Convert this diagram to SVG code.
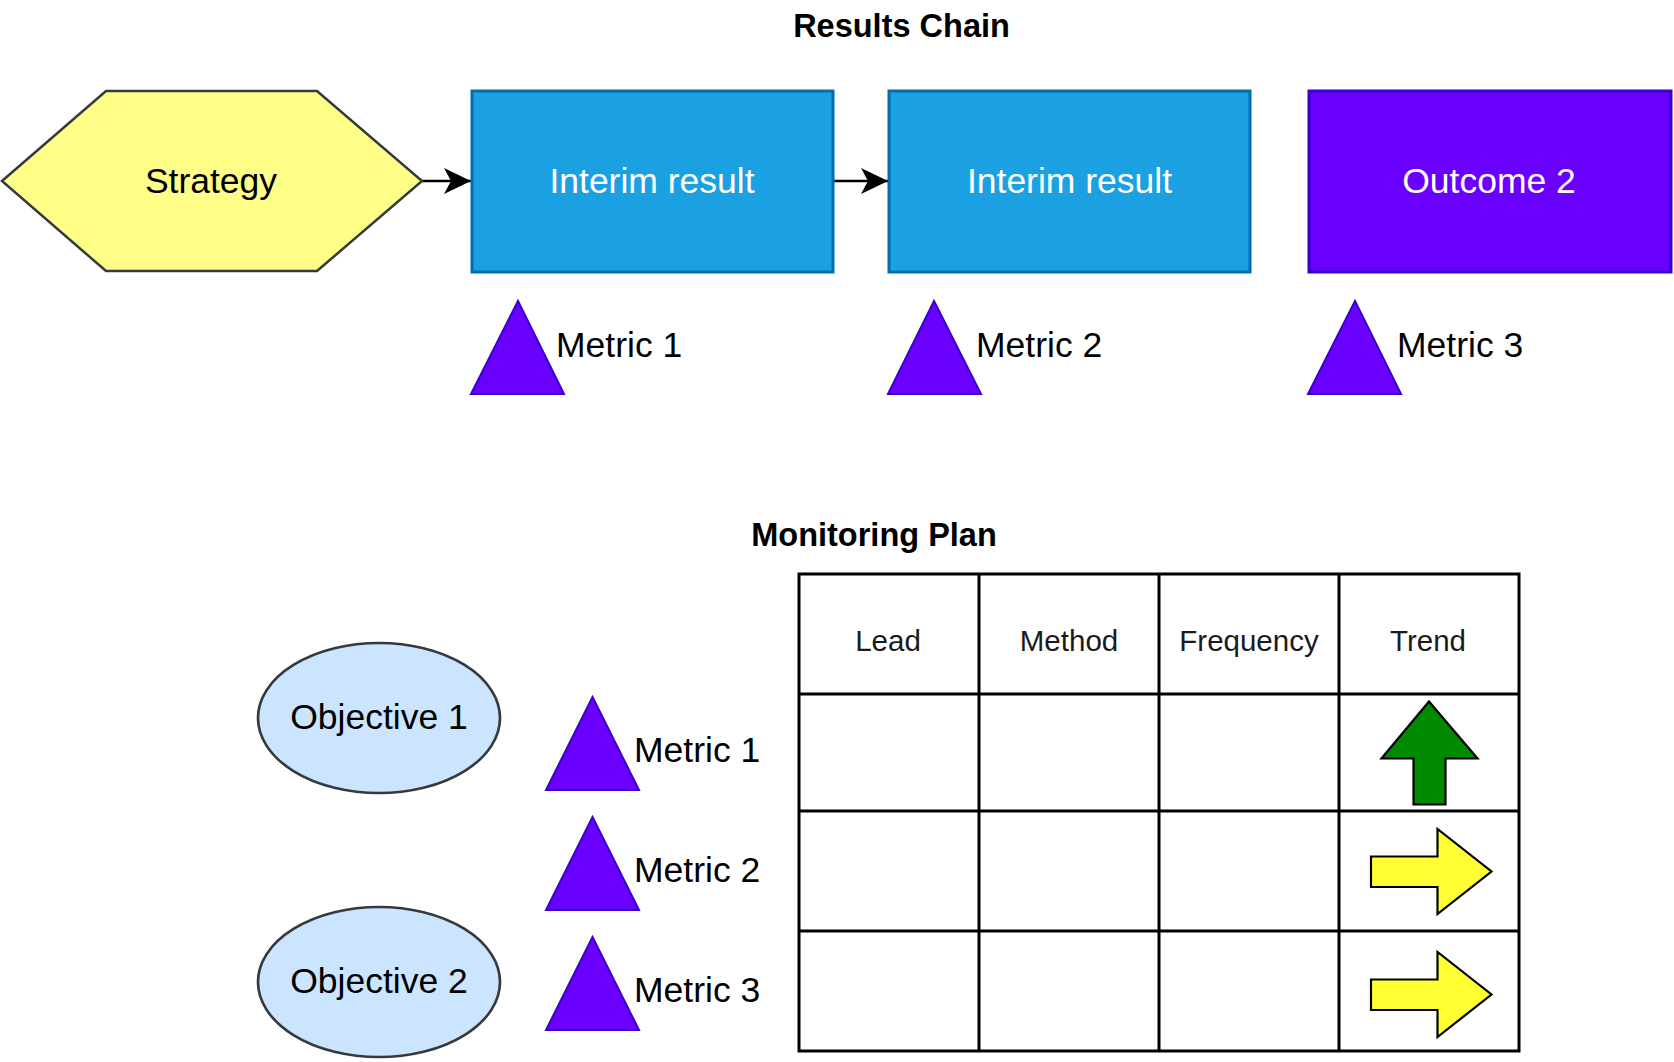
<svg xmlns="http://www.w3.org/2000/svg" width="1674" height="1062" viewBox="0 0 1674 1062">
<style>
text{font-family:"Liberation Sans",Arial,sans-serif;}
.title{font-size:32.5px;font-weight:bold;fill:#000;text-anchor:middle;}
.lbl{font-size:35.5px;fill:#000;}
.wlbl{font-size:35.5px;fill:#fff;text-anchor:middle;}
.hdr{font-size:29.5px;fill:#1a1a1a;text-anchor:middle;}
.tri{fill:#6a00ff;stroke:#3700cc;stroke-width:2;stroke-linejoin:miter;}
.blue{fill:#1ba1e2;stroke:#006eaf;stroke-width:3;}
.ell{fill:#cce5ff;stroke:#36393d;stroke-width:2.7;}
.grid{fill:none;stroke:#000;stroke-width:3;}
.edge{fill:none;stroke:#000;stroke-width:2.5;}
</style>
<defs>
<marker id="arr" markerUnits="userSpaceOnUse" markerWidth="30" markerHeight="30" viewBox="0 0 30 30" refX="28" refY="15" orient="auto">
<path d="M1,2 L28,15 L1,28 L8,15 Z" fill="#000"/>
</marker>
</defs>
<rect width="1674" height="1062" fill="#fff"/>

<text class="title" x="901.5" y="36.5">Results Chain</text>
<text class="title" x="874" y="546">Monitoring Plan</text>

<g id="connectors">
<path class="edge" d="M422,181 L471,181" marker-end="url(#arr)"/>
<path class="edge" d="M833,181 L888,181" marker-end="url(#arr)"/>
</g>

<g id="strategy">
<polygon points="2,181 106,91 317,91 422,181 317,271 106,271" fill="#ffff88" stroke="#36393d" stroke-width="2.5"/>
<text class="lbl" x="211" y="193" text-anchor="middle">Strategy</text>
</g>
<g id="interim1">
<rect class="blue" x="472" y="91" width="361" height="181"/>
<text class="wlbl" x="652" y="193">Interim result</text>
</g>
<g id="interim2">
<rect class="blue" x="889" y="91" width="361" height="181"/>
<text class="wlbl" x="1069.5" y="193">Interim result</text>
</g>
<g id="outcome2">
<rect x="1309" y="91" width="362" height="181" fill="#6a00ff" stroke="#3700cc" stroke-width="3"/>
<text class="wlbl" x="1489" y="193">Outcome 2</text>
</g>

<g id="rc-metric1">
<polygon class="tri" points="518,301 564,394 471,394"/>
<text class="lbl" x="556" y="357">Metric 1</text>
</g>
<g id="rc-metric2">
<polygon class="tri" points="934,301 981,394 888,394"/>
<text class="lbl" x="976" y="357">Metric 2</text>
</g>
<g id="rc-metric3">
<polygon class="tri" points="1355,301 1401,394 1308,394"/>
<text class="lbl" x="1397" y="357">Metric 3</text>
</g>

<g id="objective1">
<ellipse class="ell" cx="379" cy="718" rx="121" ry="75"/>
<text class="lbl" x="379" y="729" text-anchor="middle">Objective 1</text>
</g>
<g id="objective2">
<ellipse class="ell" cx="379" cy="982" rx="121" ry="75"/>
<text class="lbl" x="379" y="993" text-anchor="middle">Objective 2</text>
</g>

<g id="mp-metric1">
<polygon class="tri" points="592.5,697 639,790 546,790"/>
<text class="lbl" x="634" y="762">Metric 1</text>
</g>
<g id="mp-metric2">
<polygon class="tri" points="592.5,817 639,910 546,910"/>
<text class="lbl" x="634" y="882">Metric 2</text>
</g>
<g id="mp-metric3">
<polygon class="tri" points="592.5,937 639,1030 546,1030"/>
<text class="lbl" x="634" y="1002">Metric 3</text>
</g>

<g id="table">
<rect class="grid" x="799" y="574" width="720" height="477"/>
<path class="grid" d="M979,574 V1051 M1159,574 V1051 M1339,574 V1051 M799,694 H1519 M799,811 H1519 M799,931 H1519"/>
<text class="hdr" x="888" y="650.5">Lead</text>
<text class="hdr" x="1069" y="650.5">Method</text>
<text class="hdr" x="1249" y="650.5">Frequency</text>
<text class="hdr" x="1428" y="650.5">Trend</text>
</g>

<g id="trend-up">
<polygon points="1429,701.5 1477.5,758.5 1445.5,758.5 1445.5,804.5 1413.5,804.5 1413.5,758.5 1381.5,758.5" fill="#008a00" stroke="#000" stroke-width="2.2"/>
</g>
<g id="trend-right1">
<polygon points="1371,856.5 1437.5,856.5 1437.5,829 1491.5,871.5 1437.5,914 1437.5,887 1371,887" fill="#ffff33" stroke="#000" stroke-width="2.2"/>
</g>
<g id="trend-right2">
<polygon points="1371,979.5 1437.5,979.5 1437.5,952 1491.5,994.5 1437.5,1037 1437.5,1010 1371,1010" fill="#ffff33" stroke="#000" stroke-width="2.2"/>
</g>
</svg>
